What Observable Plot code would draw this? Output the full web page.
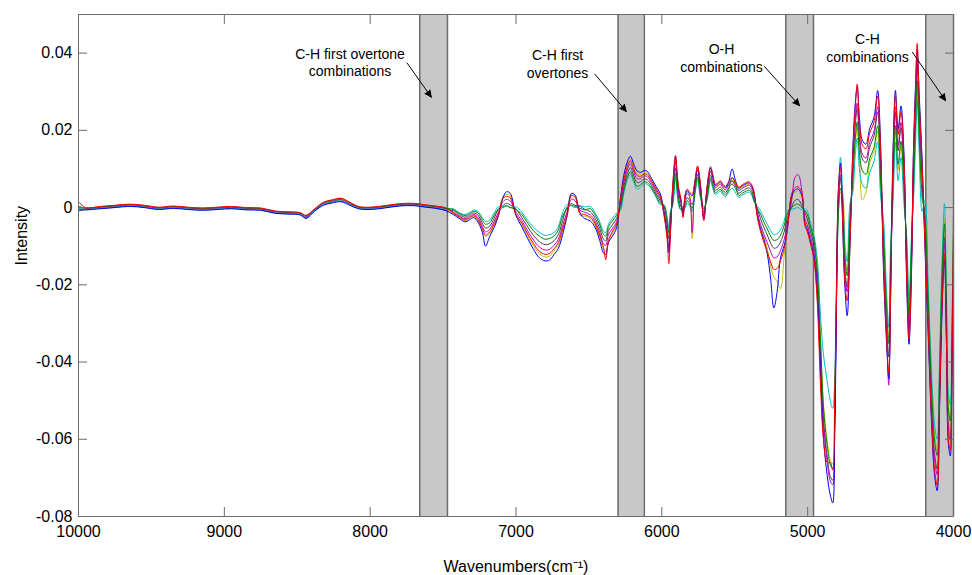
<!DOCTYPE html>
<html><head><meta charset="utf-8">
<script src="https://cdn.jsdelivr.net/npm/d3@7"></script>
<script src="https://cdn.jsdelivr.net/npm/@observablehq/plot@0.6"></script>
<style>body{margin:0;background:#fff}svg{display:block}</style>
</head><body><div id="chart"></div>
<script>
// wavenumbers (cm^-1) at which the spectra were read
const wavenumber = [
 10000,9950,9850,9750,9650,9550,9450,9350,9250,9150,9050,8950,8850,8750,8650,8550,8480,8440,8380,8320,8260,8200,8140,8080,8000,7900,7800,7700,7620,7550,7480,
 7430,7390,7350,7320,7290,7260,7230,7209,7180,7150,7120,7090,7065,7040,7000,6960,6920,6880,6840,6800,6770,6740,6710,6680,6650,6620,6595,6560,6530,6490,6460,6430,6400,6385,6365,6340,6310,6285,6260,6235,6215,6195,6170,6146,6120,6100,6070,6040,6010,
 5985,5965,5952,5940,5925,5906,5895,5884,5870,5854,5840,5826,5810,5792,5775,5755,5735,5712,5690,5666,5650,5632,5615,5598,5580,5563,5545,5518,5495,5472,5445,5420,5403,5385,5369,5345,5323,5300,5277,5255,5232,5210,5186,5160,5140,5110,5085,5065,5040,5020,5003,4980,4957,
 4935,4912,4892,4866,4845,4828,4815,4805,4790,4775,4760,4745,4729,4710,4690,4675,4660,4645,4625,4600,4575,4545,4520,4500,4480,4460,4444,4430,4415,4398,4380,4360,4340,4320,4305,4290,4275,4260,4249,4235,4215,4195,4175,4150,4130,4112,4095,4078,4062,4048,4035,4022,4010,4000
];
// intensities, in units of 1e-3
const unit = 1e-3;
const spectrumBlue = [
 -0.5,-0.6,-0.3,0.0,0.3,0.0,-0.5,-0.2,-0.5,-0.7,-0.5,-0.3,-0.6,-0.7,-1.5,-1.7,-1.9,-2.8,-0.9,0.6,1.2,1.5,0.6,-0.3,-0.5,-0.1,0.4,0.5,0.1,-0.2,-0.8,
 -1.8,-2.8,-3.7,-3.2,-2.6,-3.8,-6.5,-10.0,-7.4,-5.2,-2.0,2.5,4.1,3.7,-2.0,-5.0,-8.0,-10.8,-13.0,-13.8,-13.6,-12.2,-10.6,-7.0,-2.0,3.6,3.2,-1.5,-2.8,-3.5,-5.0,-8.0,-11.8,-12.2,-8.9,-7.5,-5.2,2.0,8.5,12.0,13.3,11.5,9.5,9.1,9.6,9.4,7.5,5.5,3.5,
 -1.6,-6.9,-11.7,-5.4,5.4,13.3,8.4,4.5,2.1,-2.2,3.1,4.4,3.6,3.0,6.1,10.4,5.6,-3.0,5.1,10.2,8.1,5.7,6.2,6.6,5.7,5.2,6.2,10.0,7.0,5.0,5.7,6.2,6.4,5.7,4.0,-2.1,-5.6,-8.3,-12.0,-18.0,-26.0,-22.0,-12.9,-9.7,-5.6,2.9,4.6,4.8,3.2,-3.9,-5.6,-8.9,-12.8,
 -22.5,-42.4,-59.4,-69.4,-74.4,-76.5,-60.4,-35.4,4.5,11.5,-4.5,-20.4,-28.0,-10.4,15.4,26.3,31.3,23.3,17.4,16.4,20.4,23.4,30.3,16.3,-16.3,-34.3,-44.3,-21.3,14.3,30.3,20.3,26.3,14.3,-21.3,-35.4,-20.4,14.3,32.2,41.0,29.2,12.3,-11.3,-31.3,-56.3,-69.3,-73.3,-51.3,-26.3,-13.3,-36.3,-61.3,-64.3,-41.3,-16.3
];
const spectrumGreen = [
 0.3,-0.1,0.2,0.5,0.8,0.5,0.0,0.3,0.0,-0.2,0.0,0.2,-0.1,-0.2,-1.0,-1.2,-1.4,-2.1,-0.4,1.3,1.9,2.4,1.3,0.2,0.0,0.4,0.9,1.0,0.6,0.3,-0.2,
 -0.5,-1.5,-2.1,-1.6,-1.0,-1.4,-3.3,-4.3,-3.9,-2.0,-0.4,0.0,0.4,0.0,-0.5,-1.8,-4.0,-6.0,-7.4,-8.2,-8.0,-7.4,-5.8,-2.2,-0.3,0.6,0.3,-0.2,-0.6,-0.3,-1.8,-4.0,-7.0,-7.4,-4.9,-3.5,-2.0,-0.2,4.5,8.0,9.3,7.5,5.5,5.9,6.7,6.5,5.1,3.1,1.1,
 0.5,-3.0,-6.5,-1.5,1.5,8.8,4.5,1.3,-0.5,-0.3,0.5,1.8,1.0,-0.2,3.5,7.8,3.0,-0.4,2.5,7.6,5.5,3.8,4.3,4.7,3.8,3.3,4.3,7.8,6.0,3.1,3.8,4.3,4.5,3.8,2.1,-0.3,-1.7,-3.8,-5.5,-7.3,-8.5,-8.3,-7.1,-4.5,-1.7,0.0,0.7,0.9,0.0,-0.8,-1.7,-5.0,-8.3,
 -16.0,-34.6,-51.6,-61.6,-66.6,-67.6,-52.6,-27.6,-2.0,5.0,2.0,-12.6,-17.6,-2.6,7.6,17.2,22.2,14.2,9.6,8.6,12.6,15.6,21.2,7.2,-7.2,-25.2,-35.2,-12.2,5.2,21.2,11.2,17.2,5.2,-12.2,-27.6,-12.6,5.2,21.8,32.8,18.8,3.2,-2.2,-22.2,-47.2,-60.2,-64.2,-42.2,-17.2,-4.2,-27.2,-52.2,-55.2,-32.2,-7.2
];
const spectrumRed = [
 1.5,0.0,0.3,0.6,0.9,0.6,0.1,0.4,0.1,-0.1,0.1,0.3,0.0,-0.1,-0.9,-1.1,-1.3,-2.0,-0.3,1.4,2.0,2.4,1.4,0.3,0.1,0.5,1.0,1.1,0.7,0.4,-0.1,
 -1.4,-2.4,-3.2,-2.7,-2.1,-3.1,-5.5,-7.1,-6.3,-4.2,-1.8,2.3,2.9,2.5,-1.8,-4.0,-6.8,-9.3,-11.3,-12.1,-11.9,-10.7,-9.1,-5.5,-2.0,3.1,2.7,-1.5,-1.8,-2.5,-4.0,-6.8,-10.3,-13.5,-8.5,-6.3,-4.2,2.0,7.3,10.8,12.1,10.3,8.3,8.1,8.7,8.5,6.8,4.8,2.8,
 -2.0,-7.5,-14.5,-6.0,6.0,13.5,9.0,5.0,2.5,-2.6,3.5,4.8,4.0,3.5,6.5,10.8,6.0,-3.4,5.5,10.6,8.5,6.0,6.5,6.9,6.0,5.5,6.5,7.7,6.5,5.3,6.0,6.5,6.7,6.0,4.3,-2.5,-6.2,-9.0,-11.5,-14.0,-16.0,-15.8,-13.8,-10.5,-6.2,3.5,5.2,5.4,3.8,-4.5,-6.2,-9.5,-13.5,
 -24.0,-46.0,-60.0,-66.0,-66.0,-68.0,-50.0,-30.0,3.5,10.5,-3.5,-19.2,-24.2,-9.2,14.2,24.9,32.0,21.9,16.2,15.2,19.2,22.2,28.9,14.9,-14.9,-32.9,-42.9,-19.9,12.9,28.9,18.9,24.9,12.9,-19.9,-34.2,-19.2,12.9,30.6,42.5,27.6,10.9,-9.9,-29.9,-54.9,-67.9,-71.9,-49.9,-24.9,-11.9,-34.9,-59.9,-62.9,-39.9,-2.0
];
const spectrumCyan = [
 -0.2,-0.4,-0.1,0.2,0.5,0.2,-0.3,0.0,-0.3,-0.5,-0.3,-0.1,-0.4,-0.5,-1.3,-1.5,-1.7,-2.5,-0.7,0.9,1.5,1.9,0.9,-0.1,-0.3,0.1,0.6,0.7,0.3,0.0,-0.5,
 -0.3,-1.3,-1.8,-1.3,-0.7,-1.0,-2.7,-3.6,-3.2,-1.4,0.2,0.3,0.5,0.0,0.2,-1.2,-3.3,-5.1,-6.4,-7.2,-7.0,-6.5,-4.9,-1.3,0.8,0.4,0.0,0.5,0.2,0.3,-1.2,-3.3,-6.1,-6.5,-4.2,-2.8,-1.4,-0.8,3.8,7.3,8.6,6.8,4.8,5.3,6.2,6.0,4.7,2.7,0.7,
 0.8,-2.1,-5.3,-0.6,0.6,7.7,3.6,0.5,-0.5,0.3,-0.1,1.2,0.4,-1.0,2.9,7.2,2.4,0.2,1.9,7.0,4.9,3.3,3.8,4.2,3.3,2.8,3.8,5.0,3.8,2.6,3.3,3.8,4.0,3.3,1.6,0.3,-0.8,-2.7,-4.3,-5.9,-7.0,-6.8,-5.7,-3.3,-0.8,-0.5,-0.2,0.0,-0.6,-0.3,-0.8,-4.1,-7.2,
 -13.0,-28.0,-38.0,-45.0,-50.0,-52.0,-45.0,-24.0,-2.0,13.0,4.0,-9.0,-14.0,1.0,4.0,13.0,18.0,10.0,6.0,5.0,9.0,12.0,17.0,3.0,-3.0,-21.0,-31.0,-8.0,1.0,17.0,7.0,13.0,1.0,-8.0,-24.0,-9.0,1.0,17.0,28.0,14.0,-1.0,2.0,-18.0,-43.0,-56.0,-60.0,-38.0,-13.0,1.0,-23.0,-48.0,-51.0,-28.0,-3.0
];
const spectrumMagenta = [
 0.2,-0.2,0.1,0.4,0.7,0.4,-0.1,0.2,-0.1,-0.3,-0.1,0.1,-0.2,-0.3,-1.1,-1.3,-1.5,-2.3,-0.5,1.1,1.7,2.1,1.1,0.1,-0.1,0.3,0.8,0.9,0.5,0.2,-0.3,
 -1.2,-2.2,-2.9,-2.4,-1.8,-2.6,-4.9,-6.3,-5.6,-3.6,-1.2,1.5,2.1,1.7,-1.2,-3.4,-6.0,-8.4,-10.2,-11.0,-10.8,-9.8,-8.2,-4.6,-1.1,2.2,1.8,-0.7,-1.2,-1.9,-3.4,-6.0,-9.4,-9.8,-6.9,-5.5,-3.6,1.4,6.5,10.0,11.3,9.5,7.5,7.5,8.2,8.0,6.3,4.3,2.3,
 -0.8,-5.7,-10.1,-4.2,4.2,11.9,7.2,3.5,1.3,-1.4,2.3,3.6,2.8,-6.5,5.3,9.6,4.8,-2.2,4.3,9.4,7.3,5.1,5.6,6.0,5.1,4.6,5.6,6.8,5.6,4.4,5.1,5.6,5.8,5.1,3.4,-1.3,-4.4,-6.9,-9.1,-11.3,-13.0,-12.8,-11.1,-8.1,-4.4,1.7,8.0,8.5,4.5,-2.7,-4.4,-7.7,-11.4,
 -19.5,-38.8,-55.8,-65.8,-70.8,-71.8,-56.8,-31.8,1.5,8.5,-1.5,-16.8,-21.8,-6.8,11.8,22.1,27.1,19.1,13.8,12.8,16.8,19.8,26.1,12.1,-12.1,-30.1,-46.0,-17.1,10.1,26.1,16.1,22.1,10.1,-17.1,-31.8,-16.8,10.1,27.4,38.4,24.4,8.1,-7.1,-27.1,-52.1,-65.1,-69.1,-47.1,-22.1,-9.1,-32.1,-57.1,-60.1,-37.1,-12.1
];
const spectrumYellow = [
 -0.1,-0.3,0.0,0.3,0.6,0.3,-0.2,0.1,-0.2,-0.4,-0.2,0.0,-0.3,-0.4,-1.2,-1.4,-1.6,-2.4,-0.6,1.0,1.6,2.0,1.0,0.0,-0.2,0.2,0.7,0.8,0.4,0.1,-0.4,
 -1.6,-2.6,-3.4,-2.9,-2.3,-3.4,-5.9,-7.5,-6.7,-4.6,-2.2,2.8,3.4,3.0,-2.2,-4.4,-7.3,-9.9,-12.0,-12.8,-12.6,-11.3,-9.7,-6.1,-2.6,3.7,3.3,-2.0,-2.2,-2.9,-4.4,-7.3,-10.9,-11.3,-8.2,-6.8,-4.6,2.4,7.8,11.3,12.6,10.8,8.8,8.5,9.1,8.9,7.1,5.1,3.1,
 -1.2,-6.3,-10.9,-4.8,4.8,12.6,7.8,4.0,1.7,-1.8,2.7,4.0,3.2,-8.0,5.7,10.0,5.2,-2.6,4.7,9.8,7.7,5.4,5.9,6.3,5.4,4.9,5.9,7.1,5.9,4.7,5.4,5.9,6.1,5.4,3.7,-1.7,-5.0,-7.6,-10.5,-15.0,-18.0,-19.0,-21.0,-12.0,-5.0,2.3,4.0,4.2,2.6,-3.3,-5.0,-8.3,-12.1,
 -15.0,-33.4,-50.4,-60.4,-65.4,-66.4,-51.4,-26.4,-3.0,4.0,3.0,-11.4,-16.4,-1.4,6.4,15.8,20.8,12.8,2.0,4.0,11.4,14.4,19.8,5.8,-5.8,-23.8,-33.8,-10.8,3.8,19.8,9.8,15.8,3.8,-10.8,-26.4,-11.4,3.8,20.2,31.2,17.2,1.8,-0.8,-20.8,-45.8,-58.8,-62.8,-40.8,-15.8,-2.8,-25.8,-50.8,-61.0,-33.8,-5.8
];
const spectrumDark = [
 -0.9,-0.5,-0.2,0.1,0.4,0.1,-0.4,-0.1,-0.4,-0.6,-0.4,-0.2,-0.5,-0.6,-1.4,-1.6,-1.8,-2.7,-0.8,0.8,1.4,1.7,0.8,-0.2,-0.4,0.0,0.5,0.6,0.2,-0.1,-0.7,
 -0.8,-1.8,-2.5,-2.0,-1.4,-2.0,-4.1,-5.3,-4.8,-2.8,-0.4,0.5,1.1,0.7,-0.4,-2.6,-5.0,-7.2,-8.8,-9.6,-9.4,-8.6,-7.0,-3.4,0.1,1.0,0.6,0.3,-0.4,-1.1,-2.6,-5.0,-8.2,-8.6,-5.9,-4.5,-2.8,0.6,5.5,9.0,10.3,8.5,6.5,6.7,7.4,7.2,5.7,3.7,1.7,
 0.2,-4.2,-8.1,-2.7,2.7,10.2,5.7,2.3,0.3,-0.4,1.3,2.6,1.8,0.8,4.3,8.6,3.8,-1.2,3.3,8.4,6.3,4.4,4.9,5.3,4.4,3.9,4.9,6.1,4.9,3.7,4.4,4.9,5.1,4.4,2.7,-0.3,-2.9,-5.2,-7.1,-9.1,-10.5,-10.3,-8.9,-6.1,-2.9,0.2,1.9,2.1,0.5,-1.2,-2.9,-6.2,-9.7,
 -18.5,-37.6,-54.6,-64.6,-69.6,-70.6,-55.6,-30.6,0.5,7.5,-0.5,-15.6,-20.6,-5.6,10.6,20.7,25.7,17.7,12.6,11.6,15.6,18.6,24.7,10.7,-10.7,-28.7,-38.7,-15.7,8.7,24.7,14.7,20.7,8.7,-15.7,-30.6,-15.6,8.7,25.8,36.8,22.8,6.7,-5.7,-25.7,-50.7,-63.7,-67.7,-45.7,-20.7,-7.7,-30.7,-55.7,-58.7,-35.7,-10.7
];
// drawing order (last on top) and line colours
const spectra = [spectrumDark, spectrumYellow, spectrumCyan, spectrumMagenta, spectrumGreen, spectrumBlue, spectrumRed];
const spectrumColors = ["#404040", "#bfbf00", "#00bfbf", "#bf00bf", "#008000", "#0000ff", "#ff0000"];

// shaded regions
const bandFrom = [7660, 6300, 5150, 4190];
const bandTo   = [7470, 6120, 4960, 4000];

// annotations
const noteText = ["C-H first overtone\ncombinations", "C-H first\novertones", "O-H\ncombinations", "C-H\ncombinations"];
const noteWavenumber = [8138, 6715, 5591, 4590];
const noteIntensity  = [0.0377, 0.0373, 0.0389, 0.0415];
const arrowFromWavenumber = [7746, 6458, 5296, 4281];
const arrowFromIntensity  = [0.0374, 0.0345, 0.0365, 0.0402];
const arrowToWavenumber   = [7581, 6244, 5056, 4055];
const arrowToIntensity    = [0.0286, 0.0249, 0.0264, 0.0277];

// axes
const xTicks = [10000, 9000, 8000, 7000, 6000, 5000, 4000];
const yTicks = [-0.08, -0.06, -0.04, -0.02, 0, 0.02, 0.04];
const xDomain = [10000, 4000];
const yDomain = [-0.08, 0.05];
const xTitle = "Wavenumbers(cm\u207B\u00B9)";
const yTitle = "Intensity";

spectra.forEach((s, k) => { if (s.length !== wavenumber.length) console.error("length mismatch", k, s.length, wavenumber.length); });

const bands = bandFrom.map((f, i) => ({from: f, to: bandTo[i]}));
const bandEdges = bandFrom.concat(bandTo);
const notes = noteText.map((t, i) => ({text: t, x: noteWavenumber[i], y: noteIntensity[i]}));
const arrows = arrowFromWavenumber.map((x1, i) => ({x1, y1: arrowFromIntensity[i], x2: arrowToWavenumber[i], y2: arrowToIntensity[i]}));
const yFmt = d => d === 0 ? "0" : d.toFixed(2);
const frameColor = "#6b6b6b";

const lineMarks = spectra.map((s, k) =>
  Plot.line(s.map((v, i) => ({w: wavenumber[i], v: v * unit})), {x: "w", y: "v", stroke: spectrumColors[k], strokeWidth: 1, curve: "catmull-rom"})
);

const chart = Plot.plot({
  width: 972, height: 575,
  marginLeft: 78, marginRight: 19, marginTop: 14, marginBottom: 59,
  style: {fontFamily: "'Liberation Sans', Arial, Helvetica, sans-serif", fontSize: "16px", color: "#000", background: "#fff"},
  x: {domain: xDomain},
  y: {domain: yDomain},
  marks: [
    Plot.rect(bands, {x1: "from", x2: "to", fill: "#c8c8c8"}),
    Plot.ruleX(bandEdges, {stroke: frameColor, strokeWidth: 1.5}),
    ...lineMarks,
    Plot.text(notes, {x: "x", y: "y", text: "text", fontSize: 14, lineHeight: 1.25, fill: "#000"}),
    Plot.arrow(arrows, {x1: "x1", y1: "y1", x2: "x2", y2: "y2", stroke: "#000", fill: "#000", strokeWidth: 1, headLength: 11, headAngle: 50}),
    Plot.frame({stroke: frameColor}),
    Plot.axisX({ticks: xTicks, tickFormat: d => String(d), tickSize: 0, tickPadding: 9, label: null, fontSize: 16}),
    Plot.axisX({ticks: xTicks, tickFormat: () => "", tickSize: -9, label: null, stroke: frameColor}),
    Plot.axisX({anchor: "top", ticks: xTicks, tickFormat: () => "", tickSize: -9, label: null, stroke: frameColor}),
    Plot.axisY({ticks: yTicks, tickFormat: yFmt, tickSize: 0, tickPadding: 6, label: null, fontSize: 16}),
    Plot.axisY({ticks: yTicks, tickFormat: () => "", tickSize: -9, label: null, stroke: frameColor}),
    Plot.axisY({anchor: "right", ticks: yTicks, tickFormat: () => "", tickSize: -9, label: null, stroke: frameColor}),
    Plot.text([yTitle], {text: d => d, frameAnchor: "left", dx: -57, rotate: -90, fontSize: 16}),
    Plot.text([xTitle], {text: d => d, frameAnchor: "bottom", dy: 55, fontSize: 16})
  ]
});
document.getElementById("chart").appendChild(chart);
</script>
</body></html>
